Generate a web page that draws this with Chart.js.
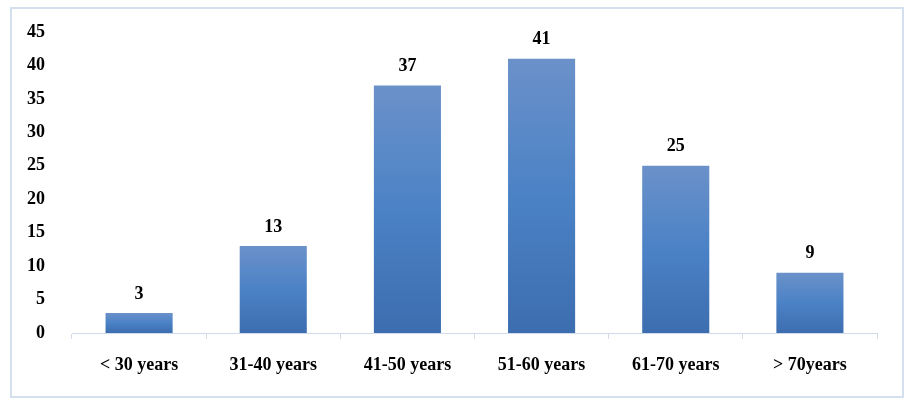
<!DOCTYPE html>
<html>
<head>
<meta charset="utf-8">
<script src="https://cdn.jsdelivr.net/npm/chart.js@4/dist/chart.umd.min.js"></script>
<style>
  html, body { margin: 0; padding: 0; background: #fff; }
  #wrap { position: relative; width: 912px; height: 408px; }
</style>
</head>
<body>
<div id="wrap"><canvas id="edades"></canvas></div>
<script>
const categorias = ["< 30 years", "31-40 years", "41-50 years", "51-60 years", "61-70 years", "> 70years"];
const pacientes = [3, 13, 37, 41, 25, 9];
const ejeY = [0, 5, 10, 15, 20, 25, 30, 35, 40, 45];

const fuente = "'Liberation Serif', 'Times New Roman', serif";

// marco alrededor del grafico
const marco = {
  id: "marco",
  beforeDraw(chart) {
    const ctx = chart.ctx;
    ctx.save();
    ctx.strokeStyle = "#d5e0ef";
    ctx.lineWidth = 2;
    ctx.strokeRect(11, 8, 892, 389);
    ctx.restore();
  }
};

// valores encima de cada barra
const valores = {
  id: "valores",
  afterDatasetsDraw(chart) {
    const ctx = chart.ctx;
    ctx.save();
    ctx.font = "bold 18px " + fuente;
    ctx.fillStyle = "#000";
    ctx.textAlign = "center";
    ctx.textBaseline = "middle";
    chart.getDatasetMeta(0).data.forEach((bar, i) => {
      ctx.fillText(pacientes[i], bar.x, bar.y - 19);
    });
    ctx.restore();
  }
};

// degradado propio de cada barra (arriba claro, abajo oscuro)
const degradado = (context) => {
  const chart = context.chart;
  const y = chart.scales.y;
  if (!chart.chartArea || !y || context.dataIndex === undefined) return "#4b82c6";
  const top = y.getPixelForValue(pacientes[context.dataIndex]);
  const base = y.getPixelForValue(0);
  if (!isFinite(top) || !isFinite(base) || top === base) return "#4b82c6";
  const g = chart.ctx.createLinearGradient(0, top, 0, base);
  g.addColorStop(0, "#6b91c9");
  g.addColorStop(0.5, "#4b82c6");
  g.addColorStop(1, "#3c6daf");
  return g;
};

new Chart(document.querySelector("#edades"), {
  type: "bar",
  data: {
    labels: categorias,
    datasets: [{
      data: pacientes,
      backgroundColor: degradado,
      barPercentage: 0.5,
      categoryPercentage: 1
    }]
  },
  options: {
    responsive: true,
    maintainAspectRatio: false,
    animation: false,
    layout: { padding: { top: 32, right: 35, left: 0, bottom: 0 } },
    plugins: { legend: { display: false }, tooltip: { enabled: false } },
    scales: {
      x: {
        grid: { drawOnChartArea: false, drawTicks: true, tickLength: 6, color: "#d0dbe9", offset: true },
        border: { display: true, color: "#d0dbe9", width: 1 },
        ticks: { color: "#000", font: { family: fuente, size: 18, weight: "bold" }, padding: 16, maxRotation: 0 },
        afterFit(scale) { scale.height = 75; }
      },
      y: {
        min: 0,
        max: 45,
        grid: { display: false },
        border: { display: false },
        afterBuildTicks(scale) { scale.ticks = ejeY.map((v) => ({ value: v })); },
        ticks: { color: "#000", font: { family: fuente, size: 18, weight: "bold" }, padding: 19 },
        afterFit(scale) { scale.width = 72; }
      }
    }
  },
  plugins: [marco, valores]
});
</script>
</body>
</html>
